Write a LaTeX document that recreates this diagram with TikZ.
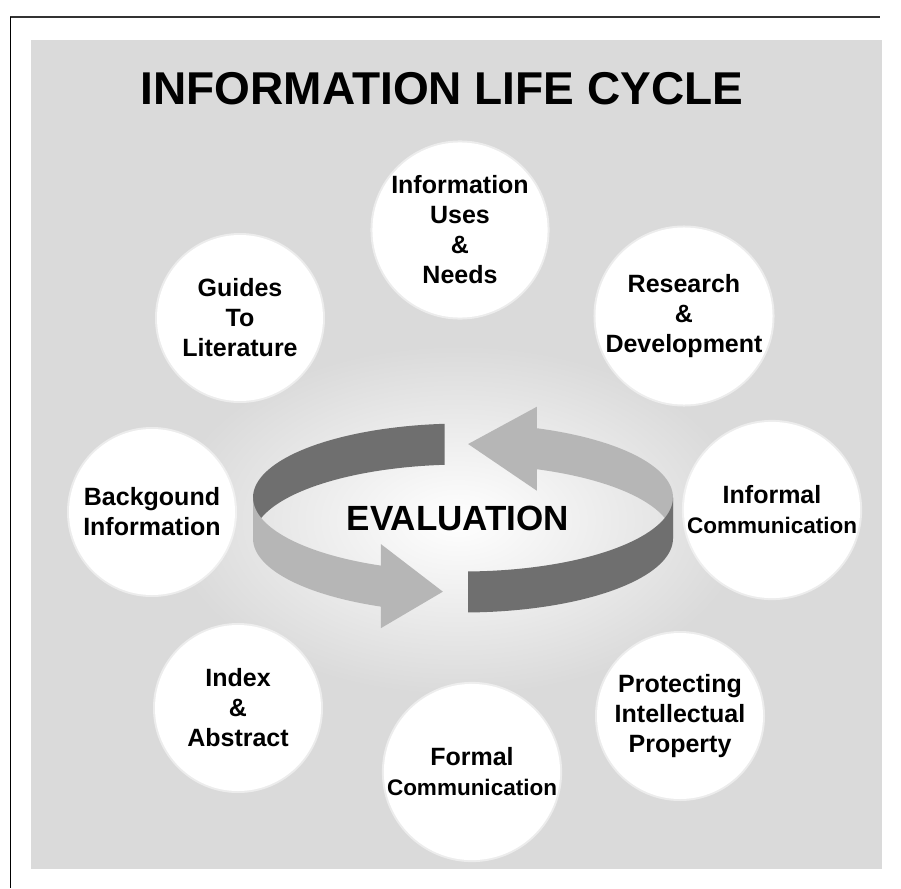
\documentclass[tikz,border=0pt]{standalone}
\usepackage{fontspec}
\setmainfont{Liberation Sans}

\definecolor{bggrey}{HTML}{DADADA}
\definecolor{banddark}{HTML}{6F6F6F}
\definecolor{bandlight}{HTML}{B6B6B6}

% the ribbon ring round EVALUATION
\newcommand{\ringcx}{463}
\newcommand{\ringcy}{518}
\newcommand{\ringa}{210}
\newcommand{\ringb}{74}
\newcommand{\ringh}{20.5}

\begin{document}
\begin{tikzpicture}
[x=1pt,y=-1pt
,stage/.style={circle,fill=white,draw=white,line width=4pt,draw opacity=.5,minimum size=166pt,inner sep=0pt,align=center,font=\bfseries\fontsize{25}{30}\selectfont}
,dark/.style={fill=banddark}
,light/.style={fill=bandlight}
]
\useasboundingbox (0,0) rectangle (901,888);
\fill[bggrey] (31,40) rectangle (882,869);
\draw[line width=1.5pt,black!80] (10,17) -- (880,17);
\draw[line width=1pt] (10,17) -- (10,888);
\begin{scope}
\clip (31,40) rectangle (882,869);
\shade[inner color=white,outer color=bggrey] (458,520) ellipse[x radius=290,y radius=175];
\end{scope}
% back half of the ring
\fill[dark] plot[domain=265:180,samples=40] ({\ringcx+\ringa*cos(\x)},{\ringcy+\ringb*sin(\x)-\ringh})
  -- plot[domain=180:265,samples=40] ({\ringcx+\ringa*cos(\x)},{\ringcy+\ringb*sin(\x)+\ringh}) -- cycle;
\fill[light] plot[domain=360:290.6,samples=40] ({\ringcx+\ringa*cos(\x)},{\ringcy+\ringb*sin(\x)-\ringh})
  -- ({\ringcx+\ringa*cos(290.6)},{\ringcy+\ringb*sin(290.6)-42})
  -- ({\ringcx+\ringa*cos(271.4)},{\ringcy+\ringb*sin(271.4)})
  -- ({\ringcx+\ringa*cos(290.6)},{\ringcy+\ringb*sin(290.6)+42})
  -- plot[domain=290.6:360,samples=40] ({\ringcx+\ringa*cos(\x)},{\ringcy+\ringb*sin(\x)+\ringh}) -- cycle;
% front half of the ring
\fill[light] plot[domain=180:113,samples=40] ({\ringcx+\ringa*cos(\x)},{\ringcy+\ringb*sin(\x)-\ringh})
  -- ({\ringcx+\ringa*cos(113)},{\ringcy+\ringb*sin(113)-42})
  -- ({\ringcx+\ringa*cos(95.5)},{\ringcy+\ringb*sin(95.5)})
  -- ({\ringcx+\ringa*cos(113)},{\ringcy+\ringb*sin(113)+42})
  -- plot[domain=113:180,samples=40] ({\ringcx+\ringa*cos(\x)},{\ringcy+\ringb*sin(\x)+\ringh}) -- cycle;
\fill[dark] plot[domain=88.6:0,samples=40] ({\ringcx+\ringa*cos(\x)},{\ringcy+\ringb*sin(\x)-\ringh})
  -- plot[domain=0:88.6,samples=40] ({\ringcx+\ringa*cos(\x)},{\ringcy+\ringb*sin(\x)+\ringh}) -- cycle;
\node[font=\bfseries\fontsize{46}{50}\selectfont] (title) at (442,89) {INFORMATION LIFE CYCLE};
\node[font=\bfseries\fontsize{35}{40}\selectfont] (eval) at (458,518) {EVALUATION};
\node[stage] (uses) at (460,230) {Information\\Uses\\\&\\Needs};
\node[stage] (rnd) at (684,316) {Research\\\&\\Development};
\node[stage] (informal) at (772,510) {Informal\\{\fontsize{22.5}{30}\selectfont Communication}};
\node[stage] (protect) at (680,716) {Protecting\\Intellectual\\Property};
\node[stage] (formal) at (472,772) {Formal\\{\fontsize{22.5}{30}\selectfont Communication}};
\node[stage] (index) at (238,708) {Index\\\&\\Abstract};
\node[stage] (backg) at (152,512) {Backgound\\Information};
\node[stage] (guides) at (240,318) {Guides\\To\\Literature};
\end{tikzpicture}
\end{document}
